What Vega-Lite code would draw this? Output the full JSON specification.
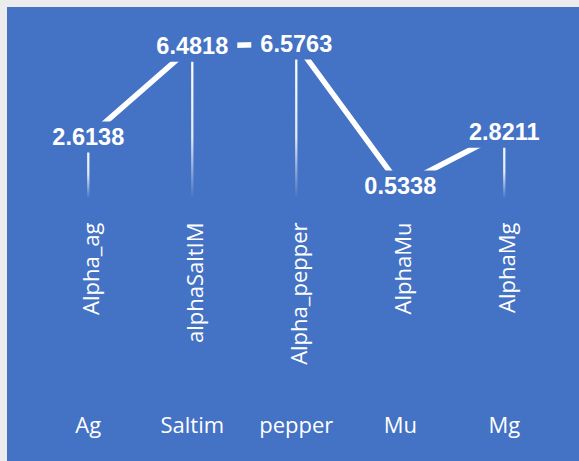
{
  "$schema": "https://vega.github.io/schema/vega-lite/v6.json",
  "width": 572,
  "height": 454,
  "autosize": "none",
  "padding": {"left": 7, "top": 7, "right": 0, "bottom": 0},
  "background": "#ECECEC",
  "config": {
    "view": {"fill": "#4472C4", "stroke": null},
    "axis": {"domain": false, "ticks": false, "grid": false, "labelColor": "#FFFFFF", "labelFont": "Open Sans", "labelFontSize": 22, "labelPadding": 0, "labelOverlap": false, "labelBound": false, "labelFlush": false, "title": null}
  },
  "data": {
    "values": [
      {"cat": "Ag", "alpha": "Alpha_ag", "value": 2.6138},
      {"cat": "Saltim", "alpha": "alphaSaltIM", "value": 6.4818},
      {"cat": "pepper", "alpha": "Alpha_pepper", "value": 6.5763},
      {"cat": "Mu", "alpha": "AlphaMu", "value": 0.5338},
      {"cat": "Mg", "alpha": "AlphaMg", "value": 2.8211}
    ]
  },
  "layer": [
    {
      "mark": {
        "type": "bar",
        "width": 2.3,
        "fill": {
          "gradient": "linear", "x1": 0, "y1": 0, "x2": 0, "y2": 1,
          "stops": [
            {"offset": 0, "color": "rgba(255,255,255,1)"},
            {"offset": 0.6, "color": "rgba(255,255,255,0.85)"},
            {"offset": 1, "color": "rgba(255,255,255,0)"}
          ]
        }
      },
      "encoding": {
        "x": {"field": "alpha", "type": "nominal", "sort": null,
              "scale": {"type": "band", "paddingInner": 0, "paddingOuter": 0.25, "align": 0.563},
              "axis": {"orient": "bottom", "labelAngle": -90, "offset": -239, "labelOffset": 3.5}},
        "y": {"field": "value", "type": "quantitative", "scale": {"domain": [-11.1702, 8.1489], "nice": false, "zero": false}, "axis": null},
        "y2": {"datum": 0}
      }
    },
    {
      "encoding": {
        "x": {"field": "cat", "type": "nominal", "sort": null,
              "scale": {"type": "band", "paddingInner": 0, "paddingOuter": 0.25, "align": 0.563},
              "axis": {"orient": "bottom", "labelAngle": 0, "offset": -45.5, "labelBaseline": "top"}},
        "y": {"field": "value", "type": "quantitative", "axis": null}
      },
      "layer": [
        {"mark": {"type": "line", "stroke": "#FFFFFF", "strokeWidth": 5.5}},
        {"mark": {"type": "point", "shape": "M-1,-0.344L1,-0.344L1,0.344L-1,0.344Z", "size": 8100, "filled": true, "fill": "#4472C4", "opacity": 1, "strokeWidth": 0}},
        {"mark": {"type": "text", "font": "Liberation Sans", "fontWeight": "bold", "fontSize": 23.5, "color": "#FFFFFF", "align": "center", "baseline": "middle", "dy": 1},
         "encoding": {"text": {"field": "value", "type": "quantitative", "format": ".4f"}}}
      ]
    }
  ],
  "resolve": {"scale": {"x": "independent"}, "axis": {"x": "independent"}}
}
